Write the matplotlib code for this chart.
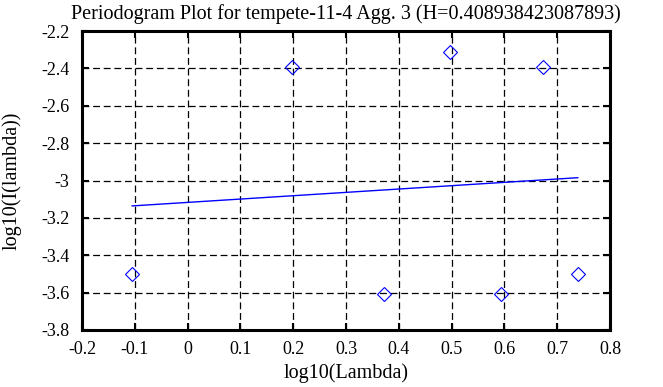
import matplotlib
matplotlib.use("Agg")
import matplotlib.pyplot as plt

plt.rcParams['font.family'] = ['Liberation Serif', 'DejaVu Serif']

title = "Periodogram Plot for tempete-11-4 Agg. 3 (H=0.408938423087893)"
x_label = "log10(Lambda)"
y_label = "log10(I(lambda))"

log_lambda = [-0.105, 0.197, 0.372, 0.497, 0.594, 0.673, 0.739]
log_I = [-3.499, -2.391, -3.607, -2.312, -3.606, -2.393, -3.499]

fit_x = [-0.105, 0.739]
fit_y = [-3.136, -2.985]

x_ticks = [-0.2, -0.1, 0, 0.1, 0.2, 0.3, 0.4, 0.5, 0.6, 0.7, 0.8]
x_tick_labels = ["-0.2", "-0.1", "0", "0.1", "0.2", "0.3", "0.4", "0.5", "0.6", "0.7", "0.8"]
y_ticks = [-3.8, -3.6, -3.4, -3.2, -3.0, -2.8, -2.6, -2.4, -2.2]
y_tick_labels = ["-3.8", "-3.6", "-3.4", "-3.2", "-3", "-2.8", "-2.6", "-2.4", "-2.2"]

fig = plt.figure(figsize=(6.63, 3.87), dpi=100)
ax = fig.add_axes([82/663, 1-330/387, (610-82)/663, (330-31)/387])

ax.plot(log_lambda, log_I, linestyle='none', marker='D', markersize=7.5,
        markerfacecolor='none', markeredgecolor='#0000ff', markeredgewidth=0.8, zorder=3)
ax.plot(fit_x, fit_y, color='#0000ff', linewidth=1.0, zorder=3)

ax.set_xlim(-0.2, 0.8)
ax.set_ylim(-3.8, -2.2)
ax.set_xticks(x_ticks)
ax.set_xticklabels(x_tick_labels)
ax.set_yticks(y_ticks)
ax.set_yticklabels(y_tick_labels)

ax.grid(True, color='black', linestyle=(0, (5.5, 3)), linewidth=0.9)
ax.tick_params(direction='in', length=5, width=1.5, top=True, right=True,
               labelsize=13, colors='black')
ax.tick_params(axis='y', pad=9)
ax.tick_params(axis='x', pad=8)
for s in ax.spines.values():
    s.set_linewidth(2.2)
    s.set_color('black')

ax.set_title(title, fontsize=14.5, pad=9)
ax.set_xlabel(x_label, fontsize=14.5, labelpad=4)
ax.set_ylabel(y_label, fontsize=14.5, labelpad=14)

fig.savefig("out.png", dpi=100)
